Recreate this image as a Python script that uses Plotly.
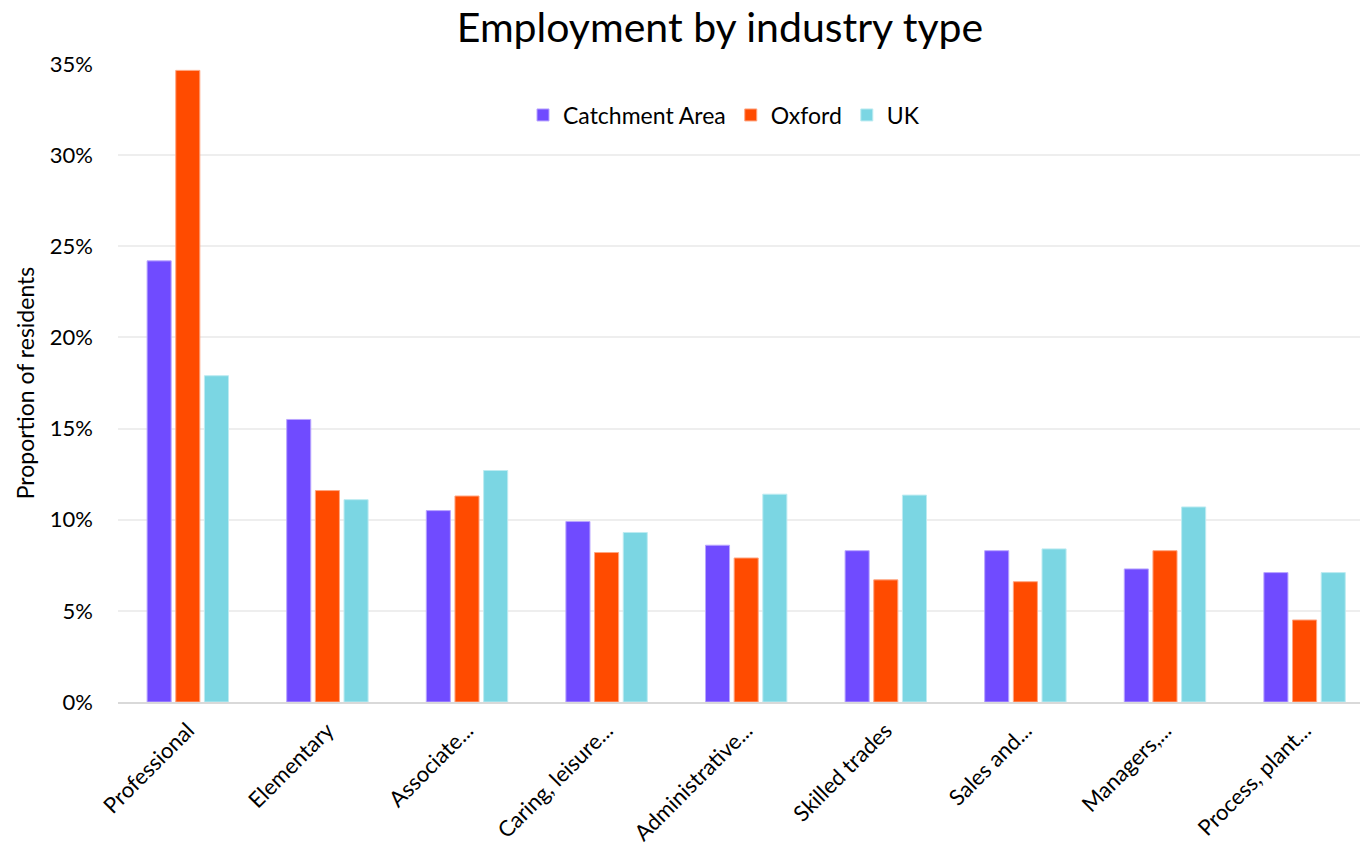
import plotly.graph_objects as go

categories = ["Professional", "Elementary", "Associate...", "Caring, leisure...",
              "Administrative...", "Skilled trades", "Sales and...", "Managers,...",
              "Process, plant..."]
catchment = [24.2, 15.5, 10.5, 9.9, 8.6, 8.3, 8.3, 7.3, 7.1]
oxford = [34.65, 11.6, 11.3, 8.2, 7.9, 6.7, 6.6, 8.3, 4.5]
uk = [17.9, 11.1, 12.7, 9.3, 11.4, 11.35, 8.4, 10.7, 7.1]
series_names = ["Catchment Area", "Oxford", "UK"]
colors = ["#704BFF", "#FF4B00", "#7BD6E3"]
line_colors = ["#B9A5FF", "#FFA580", "#BDEBF1"]
ytick_vals = [0, 5, 10, 15, 20, 25, 30, 35]
ytick_text = ["0%", "5%", "10%", "15%", "20%", "25%", "30%", "35%"]

FONT = "Lato"

fig = go.Figure()
for name, vals, c, lc in zip(series_names, [catchment, oxford, uk], colors, line_colors):
    fig.add_trace(go.Bar(name=name, x=categories, y=vals,
                         marker=dict(color=c, line=dict(color=lc, width=1))))

fig.update_layout(
    width=1360, height=850,
    margin=dict(l=118, r=0, t=64, b=148, autoexpand=False),
    paper_bgcolor="white", plot_bgcolor="white",
    barmode="group", bargap=0.384, bargroupgap=0.16,
    font=dict(family=FONT, color="#000000"),
    title=dict(text="Employment by industry type", x=720/1360, xref="container",
               xanchor="center", y=1-28/850, yanchor="middle", yref="container",
               font=dict(size=41, family=FONT, color="#000000")),
    legend=dict(orientation="h", x=(724-118)/1242, xref="paper", xanchor="center",
                y=(702-115)/638, yref="paper", yanchor="middle",
                font=dict(size=23, family=FONT, color="#000000"),
                bgcolor="rgba(0,0,0,0)"),
    showlegend=True,
)
fig.update_xaxes(range=[-0.5, 8.397], showgrid=False, showline=True, linecolor="#D9D9D9",
                 linewidth=2, ticks="", tickangle=-45, automargin=False,
                 ticklabelstandoff=5,
                 tickfont=dict(size=22, family=FONT, color="#000000"))
fig.update_yaxes(range=[0, 35], tickmode="array", tickvals=ytick_vals, ticktext=ytick_text,
                 showgrid=True, automargin=False,
                 gridcolor="#EEEEEE", gridwidth=2, zeroline=False, showline=False,
                 ticks="", ticklabelstandoff=24,
                 tickfont=dict(size=22, family=FONT, color="#000000"),
                 title=dict(text="Proportion of residents", standoff=8,
                            font=dict(size=23, family=FONT, color="#000000")))

fig.write_html("out.html")
